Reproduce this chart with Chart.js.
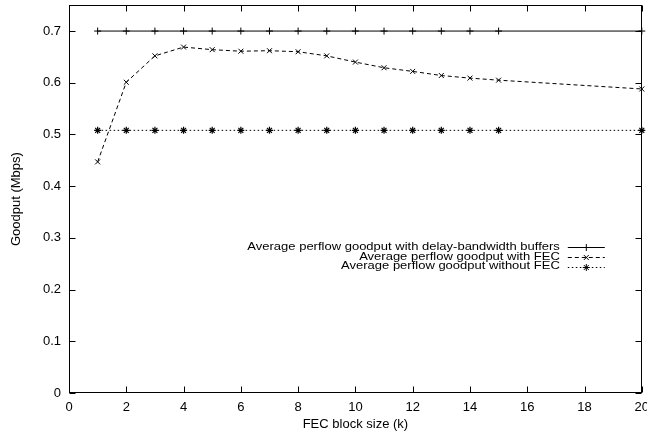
<!DOCTYPE html>
<html><head><meta charset="utf-8">
<style>html,body{margin:0;padding:0;background:#fff}#wrap{width:647px;height:435px}</style>
<script src="https://cdn.jsdelivr.net/npm/chart.js@4.4.1/dist/chart.umd.min.js"></script>
</head><body><div id="wrap"><canvas id="c" width="647" height="435"></canvas></div>
<script>
const blockSizes = [1,2,3,4,5,6,7,8,9,10,11,12,13,14,15,20];
const delayBandwidth = [0.700,0.700,0.700,0.700,0.700,0.700,0.700,0.700,0.700,0.700,0.700,0.700,0.700,0.700,0.700,0.700];
const withFEC = [0.447,0.601,0.652,0.669,0.664,0.661,0.662,0.660,0.652,0.640,0.629,0.622,0.614,0.609,0.605,0.588];
const withoutFEC = [0.508,0.508,0.508,0.508,0.508,0.508,0.508,0.508,0.508,0.508,0.508,0.508,0.508,0.508,0.508,0.508];
const xTicks = [0,2,4,6,8,10,12,14,16,18,20];
const yTicks = [0,0.1,0.2,0.3,0.4,0.5,0.6,0.7];
const seriesLabels = [
  'Average perflow goodput with delay-bandwidth buffers',
  'Average perflow goodput with FEC',
  'Average perflow goodput without FEC'
];
const xTitle = 'FEC block size (k)';
const yTitle = 'Goodput (Mbps)';

const FONT = '"Liberation Sans", Arial, Helvetica, sans-serif';
const pts = arr => blockSizes.map((x,i)=>({x:x, y:arr[i]}));

const frame = {
  id:'frame',
  beforeDatasetsDraw(chart){
    const {ctx, chartArea:a, scales} = chart;
    ctx.save();
    ctx.strokeStyle='#000'; ctx.lineWidth=1;
    const L=Math.round(a.left)+0.5, R=Math.round(a.right)-0.5, T=Math.round(a.top)+0.5, B=Math.round(a.bottom)-0.5;
    ctx.strokeRect(L,T,R-L,B-T);
    ctx.beginPath();
    const tl=6;
    yTicks.forEach(v=>{
      const y=Math.round(scales.y.getPixelForValue(v))+0.5;
      ctx.moveTo(L,y); ctx.lineTo(L+tl,y);
      ctx.moveTo(R,y); ctx.lineTo(R-tl,y);
    });
    xTicks.forEach(v=>{
      const x=Math.round(scales.x.getPixelForValue(v))+0.5;
      ctx.moveTo(x,B); ctx.lineTo(x,B-tl);
      ctx.moveTo(x,T); ctx.lineTo(x,T+tl);
    });
    ctx.stroke();
    ctx.restore();
  }
};

const keyBox = {
  id:'keyBox',
  afterDraw(chart){
    const {ctx, chartArea:a} = chart;
    const textRight = a.right - 82;
    const lineL = a.right - 74, lineR = a.right - 37;
    const rows = [a.top+242, a.top+252, a.top+261.5];
    chart.data.datasets.forEach((ds,i)=>{
      const y=rows[i];
      ctx.save();
      ctx.font='13px '+FONT;
      ctx.fillStyle='#000'; ctx.textAlign='right'; ctx.textBaseline='middle';
      ctx.translate(textRight, y-0.5); ctx.scale(1,0.9);
      ctx.fillText(ds.label,0,0);
      ctx.restore();
      ctx.save();
      ctx.strokeStyle='#000'; ctx.lineWidth=1;
      ctx.setLineDash(ds.borderDash||[]);
      ctx.beginPath(); ctx.moveTo(lineL, Math.round(y)+0.5); ctx.lineTo(lineR, Math.round(y)+0.5); ctx.stroke();
      ctx.setLineDash([]);
      Chart.helpers.drawPoint(ctx, {pointStyle: ds.pointStyle, radius: ds.pointRadius, borderWidth: 1, rotation: 0}, (lineL+lineR)/2, Math.round(y)+0.5);
      ctx.restore();
    });
  }
};

new Chart(document.getElementById('c'), {
  type:'line',
  data:{
    datasets:[
      {label:seriesLabels[0], data:pts(delayBandwidth), borderColor:'#000', borderWidth:1, pointStyle:'cross', pointRadius:3.5, pointBorderColor:'#000', pointBorderWidth:1, pointBackgroundColor:'#000', tension:0, clip:false},
      {label:seriesLabels[1], data:pts(withFEC), borderColor:'#000', borderWidth:1, borderDash:[4,3], pointStyle:'crossRot', pointRadius:3.5, pointBorderColor:'#000', pointBorderWidth:1, pointBackgroundColor:'#000', tension:0, clip:false},
      {label:seriesLabels[2], data:pts(withoutFEC), borderColor:'#000', borderWidth:1, borderDash:[1.5,2.5], pointStyle:'star', pointRadius:3.5, pointBorderColor:'#000', pointBorderWidth:1.2, pointBackgroundColor:'#000', tension:0, clip:false}
    ]
  },
  options:{
    responsive:false, animation:false, devicePixelRatio:1,
    layout:{padding:{top:4,right:5,left:0,bottom:0}},
    plugins:{legend:{display:false}, tooltip:{enabled:false}},
    scales:{
      x:{type:'linear', min:0, max:20,
        grid:{display:false, drawTicks:false}, border:{display:false},
        ticks:{stepSize:2, color:'#000', padding:7, maxRotation:0, autoSkip:false, font:{family:FONT, size:13}},
        afterBuildTicks(s){ s.ticks = xTicks.map(v=>({value:v})); },
        afterFit(s){ s.height=42; s.paddingLeft=0; s.paddingRight=0; },
        title:{display:true, text:xTitle, color:'#000', font:{family:FONT, size:13}, padding:{top:0,bottom:3}}
      },
      y:{type:'linear', min:0, max:0.75,
        grid:{display:false, drawTicks:false}, border:{display:false},
        ticks:{color:'#000', padding:8, font:{family:FONT, size:13}},
        afterBuildTicks(s){ s.ticks = yTicks.map(v=>({value:v})); },
        afterFit(s){ s.width=69; s.paddingTop=0; s.paddingBottom=0; },
        title:{display:true, text:yTitle, color:'#000', font:{family:FONT, size:13}, padding:{top:9,bottom:0}}
      }
    }
  },
  plugins:[frame, keyBox]
});
</script></body></html>
